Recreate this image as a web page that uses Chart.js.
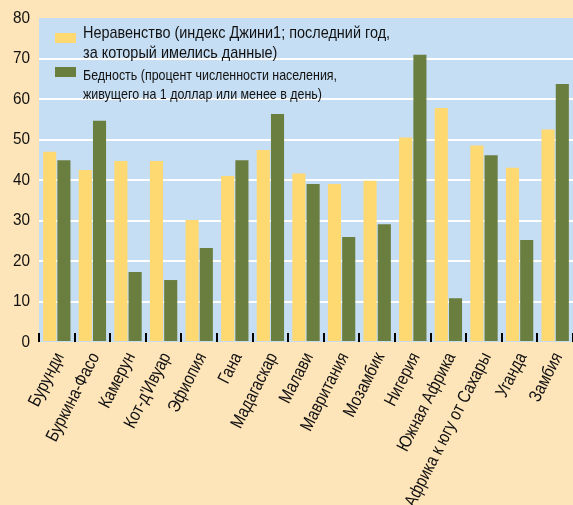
<!DOCTYPE html>
<html lang="ru">
<head>
<meta charset="UTF-8"/>
<title>Неравенство и бедность</title>
<script src="https://cdn.jsdelivr.net/npm/chart.js"></script>
<style>
  html, body { margin: 0; padding: 0; background: #fee4b9; }
  canvas { display: block; }
</style>
</head>
<body>
<canvas id="chart" width="573" height="505"></canvas>
<script>
const countries = ["Бурунди", "Буркина-Фасо", "Камерун", "Кот-д'Ивуар", "Эфиопия", "Гана",
  "Мадагаскар", "Малави", "Мавритания", "Мозамбик", "Нигерия", "Южная Африка",
  "Африка к югу от Сахары", "Уганда", "Замбия"];
const giniValues = [47.0, 42.5, 44.7, 44.7, 30.1, 41.0, 47.4, 41.6, 39.0, 39.8, 50.5, 57.8, 48.5, 43.0, 52.5];
const povertyValues = [44.9, 54.6, 17.3, 15.3, 23.2, 44.9, 56.3, 39.0, 25.9, 29.1, 70.9, 10.8, 46.1, 25.2, 63.7];
const yTicks = [0, 10, 20, 30, 40, 50, 60, 70, 80];
const giniLabel = ["Неравенство (индекс Джини1; последний год,", "за который имелись данные)"];
const povertyLabel = ["Бедность (процент численности населения,", "живущего на 1 доллар или менее в день)"];

const FONT = "'Liberation Sans', Arial, sans-serif";
const GOLD = "#fed870";
const GREEN = "#6a7e3f";
const PLOT_BG = "#c6def4";
const INK = "#111";

// no narrow font installed: squeeze Liberation Sans horizontally instead
function narrowText(ctx, text, x, y, opts) {
  ctx.save();
  ctx.translate(x, y);
  if (opts.angle) ctx.rotate(opts.angle * Math.PI / 180);
  ctx.scale(opts.sx, 1);
  ctx.font = opts.size + "px " + FONT;
  ctx.fillStyle = INK;
  ctx.textAlign = opts.align || "left";
  ctx.textBaseline = opts.baseline || "alphabetic";
  ctx.fillText(text, 0, 0);
  ctx.restore();
}

// blue plot area
const plotBg = {
  id: "plotBg",
  beforeDraw(chart) {
    const { ctx, chartArea: a } = chart;
    ctx.save();
    ctx.fillStyle = PLOT_BG;
    ctx.fillRect(a.left, a.top, a.right - a.left, a.bottom - a.top);
    ctx.restore();
  }
};

// category labels, y labels and the short black ticks between categories
const axisText = {
  id: "axisText",
  afterDatasetsDraw(chart) {
    const { ctx, chartArea: a } = chart;
    const x = chart.scales.x;
    const y = chart.scales.y;
    const half = (x.getPixelForValue(1) - x.getPixelForValue(0)) / 2;

    ctx.save();
    ctx.strokeStyle = "#000";
    ctx.lineWidth = 2;
    for (let i = 0; i <= countries.length; i++) {
      const px = Math.round(x.getPixelForValue(i) - half);
      ctx.beginPath();
      ctx.moveTo(px, a.bottom);
      ctx.lineTo(px, a.bottom - 9);
      ctx.stroke();
    }
    ctx.restore();

    countries.forEach((name, i) => {
      narrowText(ctx, name, x.getPixelForValue(i) + 3, a.bottom + 12,
        { angle: -63, sx: 0.83, size: 18, align: "right", baseline: "middle" });
    });

    yTicks.forEach(v => {
      narrowText(ctx, String(v), a.left - 9, y.getPixelForValue(v),
        { sx: 0.9, size: 17, align: "right", baseline: "middle" });
    });
  }
};

// legend inside the plot, top-left, two-line labels
const innerLegend = {
  id: "innerLegend",
  afterDatasetsDraw(chart) {
    const { ctx, chartArea: a } = chart;
    const items = [
      { color: GOLD, lines: giniLabel, size: 17, sx: 0.85, swatch: 15, base: [19.5, 39.5] },
      { color: GREEN, lines: povertyLabel, size: 15, sx: 0.83, swatch: 49, base: [62, 81] }
    ];
    items.forEach(it => {
      ctx.save();
      ctx.fillStyle = it.color;
      ctx.fillRect(a.left + 16, a.top + it.swatch, 21, 10);
      ctx.restore();
      it.lines.forEach((t, j) =>
        narrowText(ctx, t, a.left + 44, a.top + it.base[j], { sx: it.sx, size: it.size }));
    });
  }
};

new Chart(document.getElementById("chart"), {
  type: "bar",
  data: {
    labels: countries,
    datasets: [
      { label: giniLabel.join(" "), data: giniValues, backgroundColor: GOLD,
        categoryPercentage: 0.8, barPercentage: 0.92 },
      { label: povertyLabel.join(" "), data: povertyValues, backgroundColor: GREEN,
        categoryPercentage: 0.8, barPercentage: 0.92 }
    ]
  },
  options: {
    responsive: false,
    animation: false,
    layout: { padding: { top: 18, right: 0, left: 0, bottom: 0 } },
    plugins: { legend: { display: false }, tooltip: { enabled: false } },
    scales: {
      x: {
        grid: { display: false },
        border: { display: false },
        ticks: { display: false },
        afterFit(s) { s.height = 163; s.paddingLeft = 0; s.paddingRight = 0; }
      },
      y: {
        min: 0,
        max: 80,
        afterBuildTicks(s) { s.ticks = yTicks.map(v => ({ value: v })); },
        grid: {
          color: c => (c.tick && (c.tick.value === 0 || c.tick.value === 80)) ? "rgba(0,0,0,0)" : "#ffffff",
          lineWidth: 2,
          drawTicks: false
        },
        border: { display: false },
        ticks: { display: false },
        afterFit(s) { s.width = 39; s.paddingTop = 0; s.paddingBottom = 0; }
      }
    }
  },
  plugins: [plotBg, axisText, innerLegend]
});
</script>
</body>
</html>
